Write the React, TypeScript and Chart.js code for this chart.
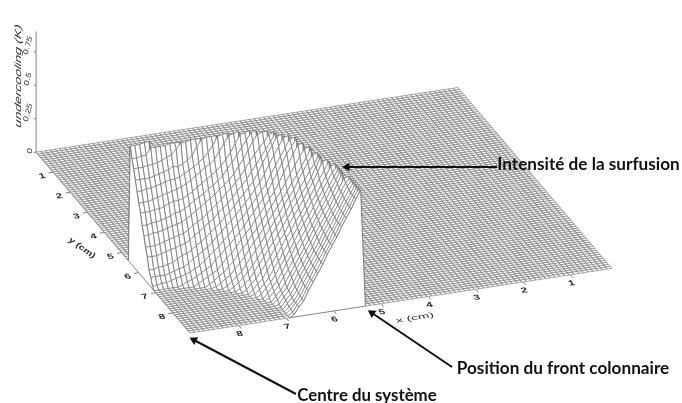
import React, { useEffect, useRef } from "react";
import Chart from "chart.js/auto";

// Row = distance from y max in 0.1 cm, column = distance from x max in 0.1 cm.
const raisedFrom = [22,22,22,22,22,22,21,21,21,20,20,19,18,18,17,16,15,14,12,11,9,6,0,0,0,0,0,0,0,0,0,0,0,0,0,0];
const raisedRows = [
  [2,7,11,18,24,30,36,43,49,55,62,68,74,81,87],
  [2,7,11,18,24,30,36,43,49,55,62,68,74,81,87],
  [3,7,12,18,24,31,37,43,49,56,62,68,75,81,87],
  [3,7,12,19,25,31,37,44,50,56,62,69,75,81,87],
  [4,8,13,20,26,32,38,44,51,57,63,69,76,82,87],
  [5,9,14,21,27,33,39,45,52,58,64,70,77,83,87],
  [1,6,10,16,22,28,34,40,47,53,59,65,71,78,84,87],
  [3,7,11,18,24,30,36,42,48,54,60,66,73,79,86,87],
  [4,8,13,19,25,31,37,43,50,56,62,68,74,81,88],
  [2,6,10,16,21,27,33,39,45,51,57,63,69,76,82,89],
  [4,8,12,18,24,30,36,41,47,53,59,65,71,77,83,89],
  [2,6,10,15,21,26,32,38,44,50,55,61,67,73,79,85,89],
  [1,4,8,12,18,23,29,35,40,46,52,58,64,69,75,81,88,89],
  [3,7,10,16,21,26,32,38,43,49,54,60,66,72,78,84,90],
  [2,6,9,14,19,24,30,35,40,46,52,57,63,69,75,82,89,90],
  [2,5,8,13,18,23,28,33,38,44,49,55,60,66,71,77,84,91],
  [2,5,8,12,16,21,26,31,37,42,47,52,58,63,69,74,80,85,91],
  [2,5,8,11,16,21,25,30,35,40,45,50,56,61,66,73,79,85,90,91],
  [1,3,6,8,12,16,20,25,30,34,39,44,49,54,59,64,70,75,81,87,93],
  [2,4,7,9,13,16,21,25,29,34,38,43,48,53,58,63,69,75,81,87,92,93],
  [2,4,6,8,10,14,18,21,25,30,34,38,43,47,52,57,62,68,75,81,88,94,95],
  [1,3,4,6,8,10,12,16,19,23,26,30,34,38,43,47,52,56,61,68,74,81,87,92,97],
  [2,2,3,3,4,5,6,7,8,10,12,15,18,21,24,28,31,35,39,43,47,52,56,61,65,72,78,84,90,96,97],
  [7,7,7,7,8,9,10,11,13,16,18,21,23,26,30,33,37,40,44,48,52,56,61,65,71,78,84,90,96,97],
  [11,11,12,12,13,14,16,18,19,21,24,26,29,32,35,38,42,45,49,53,57,61,65,71,78,84,90,96,97],
  [19,19,19,20,21,22,23,24,25,27,30,32,35,38,40,44,47,50,54,58,62,66,71,76,81,86,91,97],
  [25,25,25,26,27,28,29,30,31,33,36,38,40,43,46,49,52,56,59,63,67,72,77,82,86,90,95,96],
  [32,32,33,33,34,35,36,37,38,40,42,45,47,50,52,55,58,61,64,68,73,78,84,90,95,96,96],
  [38,38,39,39,40,41,42,44,44,46,48,51,53,55,58,60,63,66,71,75,80,85,90,95,96],
  [46,46,46,47,47,48,50,51,51,52,54,56,59,61,64,66,69,72,76,81,87,93,94,95],
  [52,52,52,53,54,55,56,57,58,59,61,63,66,68,71,73,76,81,87,92,93,94],
  [59,59,60,60,61,62,63,64,64,65,67,69,71,74,76,80,85,91,92,92],
  [66,66,66,66,67,68,69,70,72,71,73,75,78,84,89,90,90,90],
  [73,73,73,74,74,75,76,78,79,83,87,87,88,88,88],
  [79,79,80,80,85,85,85,85,86,86,86],
  [87,87,87,88,88],
];

const xTickValues = [8, 7, 6, 5, 4, 3, 2, 1];
const yTickValues = [1, 2, 3, 4, 5, 6, 7, 8];
const zTickValues = [0, 0.25, 0.5, 0.75];
const zTickLabels = ["0", "0.25", "0.5", "0.75"];
const callouts = ["Intensité de la surfusion", "Position du front colonnaire", "Centre du système"];

const X_MAX = 9.03, Y_MAX = 9, Z_TOP = 0.9, STEP = 0.1, COLS = 89, ROWS = 90;
const project = (x: number, y: number, z: number) => ({
  x: 190 + (X_MAX - x) * 47.4 - (Y_MAX - y) * 17.1,
  y: 333 - (X_MAX - x) * 7.26 - (Y_MAX - y) * 20.1 - z * 134,
});
const nodeZ = (i: number, j: number) => {
  const row = raisedRows[j];
  if (!row) return 0;
  const v = row[i - raisedFrom[j]];
  return v === undefined ? 0 : v / 100;
};
const node = (i: number, j: number, flat = false) =>
  project(X_MAX - i * STEP, Y_MAX - j * STEP, flat ? 0 : nodeZ(i, j));

const MESH = "#6e6e6e";
const base = { showLine: true, pointRadius: 0, borderJoinStyle: "bevel", borderDash: [1000, 0], tension: 0, clip: false };

function buildDatasets() {
  const sets: any[] = [];
  // strips of the mesh, back to front
  for (let j = ROWS - 1; j >= 0; j--) {
    const pts: any[] = [];
    for (let i = 0; i <= COLS; i++) pts.push(node(i, j + 1));
    pts.push(node(COLS, j));
    for (let i = COLS - 1; i >= 0; i--) pts.push(node(i, j), node(i, j + 1), node(i, j));
    sets.push({ ...base, data: pts, borderColor: MESH, borderWidth: 0.6, backgroundColor: "#ffffff", fill: "shape" });
  }
  // white skirts on the two front edges
  const skirtA: any[] = [];
  for (let i = 21; i <= 37; i++) skirtA.push(node(i, 0));
  skirtA.push(node(21, 0, true));
  const skirtB: any[] = [];
  for (let j = 21; j <= 36; j++) skirtB.push(node(0, j));
  skirtB.push(node(0, 21, true));
  for (const s of [skirtA, skirtB])
    sets.push({ ...base, data: [...s, s[0]], borderColor: "#777777", borderWidth: 0.9, backgroundColor: "#ffffff", fill: "shape" });

  // axes and ticks
  const gap = { x: NaN, y: NaN };
  const ticks: any[] = [];
  for (const v of xTickValues) {
    const a = project(v, Y_MAX, 0);
    ticks.push(a, project(v, Y_MAX + 0.15, 0), gap);
  }
  for (const v of yTickValues) {
    const a = project(X_MAX, v, 0);
    ticks.push(a, project(X_MAX + 0.1, v, 0), gap);
  }
  for (const v of zTickValues) {
    const a = project(X_MAX, 0, v);
    ticks.push(a, project(X_MAX + 0.05, 0, v), gap);
  }
  ticks.push(project(X_MAX, 0, 0), project(X_MAX, 0, Z_TOP));
  sets.push({ ...base, data: ticks, borderColor: "#808080", borderWidth: 1, fill: false });

  // callout arrows
  const arrows = [
    [{ x: 497, y: 167 }, { x: 347, y: 167 }],
    [{ x: 452, y: 367 }, { x: 372, y: 313 }],
    [{ x: 296, y: 394 }, { x: 194, y: 340 }],
  ];
  for (const [a, b] of arrows) {
    const rot = (Math.atan2(b.x - a.x, -(b.y - a.y)) * 180) / Math.PI;
    sets.push({
      ...base, data: [a, b], borderColor: "#111111", borderWidth: 2, fill: false,
      pointRadius: [0, 5], pointStyle: "triangle", pointRotation: [0, rot],
      pointBackgroundColor: "#111111", pointBorderWidth: 0,
    });
  }
  return sets.map((s, idx) => ({ ...s, order: sets.length - idx }));
}

const textPlugin = {
  id: "sceneText",
  afterDatasetsDraw(chart: any) {
    const ctx = chart.ctx;
    const sx = chart.scales.x, sy = chart.scales.y;
    const put = (t: string, vx: number, vy: number, m: number[], font: string, color = "#2b2b2b") => {
      ctx.save();
      ctx.transform(m[0], m[1], m[2], m[3], sx.getPixelForValue(vx), sy.getPixelForValue(vy));
      ctx.font = font; ctx.fillStyle = color; ctx.textAlign = "center"; ctx.textBaseline = "middle";
      ctx.fillText(t, 0, 0);
      ctx.restore();
    };
    const digit = [1.25, -0.12, 0.35, 0.8];
    const small = "bold 9px 'Liberation Sans'";
    xTickValues.forEach((v) => {
      const p = project(v, Y_MAX, 0);
      put(String(v), p.x + 1, p.y + 8.5, digit, small);
    });
    yTickValues.forEach((v) => {
      const p = project(X_MAX, v, 0);
      put(String(v), p.x - 11, p.y + 4, digit, small);
    });
    zTickValues.forEach((v, k) => {
      const p = project(X_MAX, 0, v);
      put(zTickLabels[k], p.x - 6 - (zTickLabels[k].length > 1 ? 2 : 0), p.y - (zTickLabels[k].length > 1 ? 6 : 1), [0.25, -0.9, 0.7, 0.28], "10px 'Liberation Sans'");
    });
    put("undercooling (K)", 18, 76, [0, -1, 0.65, 0.2], "italic 14px 'Liberation Sans'");
    put("y (cm)", 82, 248, [0.85, 0.6, -0.4, 0.7], "italic bold 10px 'Liberation Sans'");
    put("x (cm)", 415, 318, [1.5, -0.25, 0.3, 0.75], "9px 'Liberation Sans'");
    const big = "bold 16.5px Lato";
    put(callouts[0], 588.5, 165, [1.04, 0, 0, 1], big, "#111111");
    put(callouts[1], 563, 369, [1.04, 0, 0, 1], big, "#111111");
    put(callouts[2], 367, 396, [1.02, 0, 0, 1], big, "#111111");
  },
};

export default function App() {
  const ref = useRef<HTMLCanvasElement>(null);
  useEffect(() => {
    document.body.style.margin = "0";
    const chart = new Chart(ref.current!, {
      type: "scatter",
      data: { datasets: buildDatasets() },
      options: {
        animation: false,
        responsive: false,
        events: [],
        layout: { padding: 0, autoPadding: false },
        plugins: { legend: { display: false }, tooltip: { enabled: false }, title: { display: false } },
        scales: {
          x: { type: "linear", min: 0, max: 682, display: false },
          y: { type: "linear", min: 0, max: 403, reverse: true, display: false },
        },
      },
      plugins: [textPlugin],
    } as any);
    return () => chart.destroy();
  }, []);
  return <canvas ref={ref} width={682} height={403} style={{ display: "block" }} />;
}
